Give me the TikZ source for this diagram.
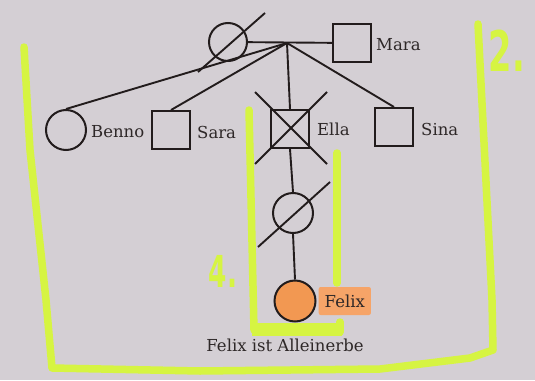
\documentclass[tikz,border=0pt]{standalone}
\usepackage{fontspec}
\setmainfont{DejaVu Serif}
\newfontfamily\handfont{DejaVu Sans}
\usepackage{xcolor}
\usepackage{tikz}
\usetikzlibrary{calc}
\usetikzlibrary{positioning}

\definecolor{papier}{RGB}{212,207,212}
\definecolor{tinte}{RGB}{34,28,28}
\definecolor{schrift}{RGB}{46,40,40}
\definecolor{leucht}{RGB}{214,244,66}
\definecolor{orangeA}{RGB}{242,152,82}
\definecolor{orangeB}{RGB}{246,164,104}

\tikzset{
	pers/.style={draw=tinte, line width=2pt, inner sep=0pt},
	rund/.style={pers, circle, minimum size=40pt},
	eckig/.style={pers, rectangle, minimum size=38pt},
	strich/.style={draw=tinte, line width=1.9pt},
	etikett/.style={text=schrift, inner sep=0pt, font=\fontsize{16.5}{18}\selectfont},
	marker/.style={draw=leucht, line width=7.5pt, line cap=round, line join=round},
	hand/.style={text=leucht, inner sep=0pt, xscale=.6, font=\handfont\bfseries\fontsize{#1}{#1}\selectfont}
}

\begin{document}
\begin{tikzpicture}[x=1pt,y=-1pt]
	\fill[papier](0,0) rectangle (535,380);
	\useasboundingbox (0,0) rectangle (535,380);
	
	\draw[marker](24,47)--(30,150)--(46,300)--(52,368)--(200,371)--(380,369)--(470,358)--(493,350)--(492,300)--(478,24);
	\draw[marker](249,110)--(254,330);
	\draw[marker](337,153)--(337,283);
	\draw[marker](340,322)--(340,332);
	\draw[marker, line width=13pt, line cap=butt](252,329)--(342,329);
	
	\node[hand=56] (Z) at (507,51) {2.};
	\node[hand=44] (V) at (223,271) {4.};
	
	\node[rund, minimum size=38pt] (O) at (228,42) {};
	\node[eckig] (M) at (352,43) {};
	\coordinate (K) at (287,43);
	\node[rund] (B) at (66,130) {};
	\node[eckig] (Sa) at (171,130) {};
	\node[eckig] (E) at (290,129) {};
	\node[eckig] (Si) at (394,127) {};
	\node[rund] (T) at (293,213) {};
	\node[rund, minimum size=41pt, fill=orangeA] (F) at (295,301) {};
	
	\draw[strich](O)--(M);
	\draw[strich](K)--(B.north);
	\draw[strich](K)--(Sa.north);
	\draw[strich](K)--(E.north);
	\draw[strich](K)--(Si.north);
	\draw[strich](E.south)--(T.north);
	\draw[strich](T.south)--(F.north);
	
	\draw[strich]($(O)+(37,-29)$)--($(O)+(-30,30)$);
	\draw[strich]($(E)+(-35,-37)$)--($(E)+(37,35)$);
	\draw[strich]($(E)+(37,-37)$)--($(E)+(-35,35)$);
	\draw[strich]($(T)+(37,-31)$)--($(T)+(-35,34)$);
	
	\node[etikett, right=4pt of M, yshift=-2pt] (m) {Mara};
	\node[etikett, right=4pt of B, yshift=-2pt] (b) {Benno};
	\node[etikett, right=6pt of Sa, yshift=-2pt] (sa) {Sara};
	\node[etikett, right=7pt of E] (e) {Ella};
	\node[etikett, right=7pt of Si, yshift=-2pt] (si) {Sina};
	\node[etikett, right=2pt of F, fill=orangeB, rounded corners=2pt, inner xsep=6pt, minimum height=28pt] (f) {Felix};
	
	\node[etikett] (erbe) at (285,345) {Felix ist Alleinerbe};
\end{tikzpicture}
\end{document}
